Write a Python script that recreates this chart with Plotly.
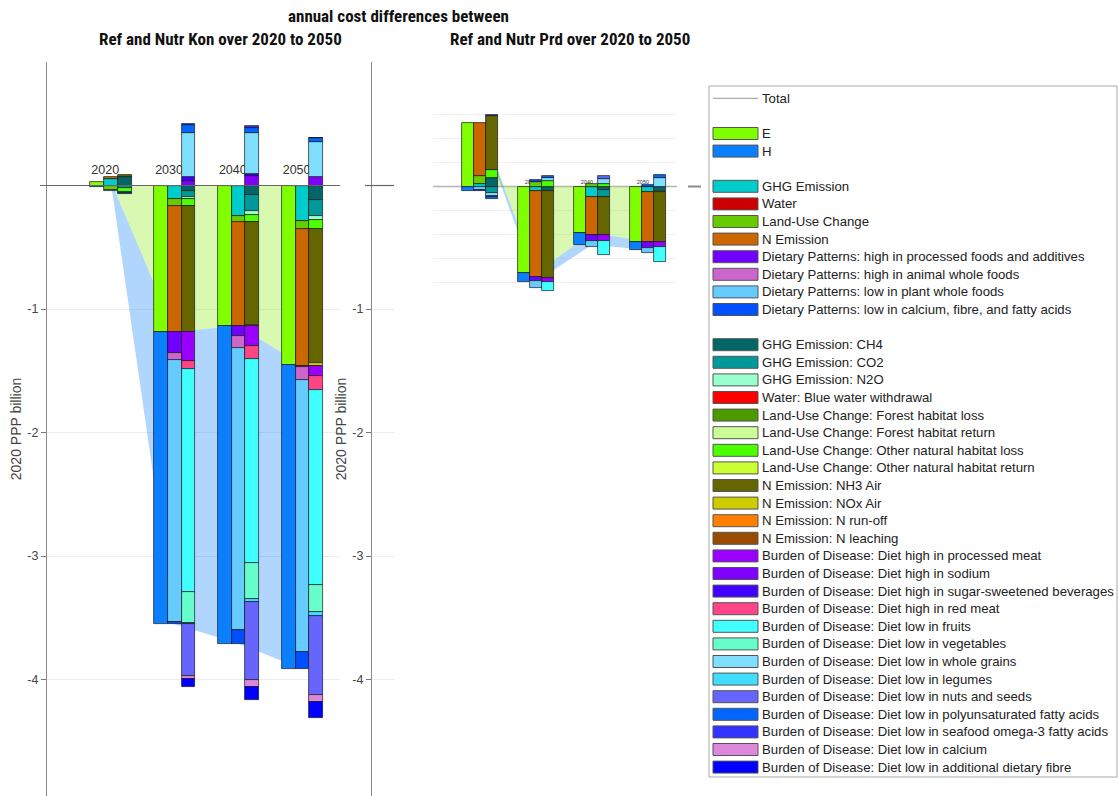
import plotly.graph_objects as go

W, H = 1119, 796

YEARS = [2020, 2030, 2040, 2050]

# ---- series names and colours -------------------------------------------
EH_NAMES = ["E", "H"]
EH_COLORS = ["#80ff00", "#0a80ff"]

CAT_NAMES = [
    "GHG Emission",
    "Water",
    "Land-Use Change",
    "N Emission",
    "Dietary Patterns: high in processed foods and additives",
    "Dietary Patterns: high in animal whole foods",
    "Dietary Patterns: low in plant whole foods",
    "Dietary Patterns: low in calcium, fibre, and fatty acids",
]
CAT_COLORS = ["#00cccc", "#cc0000", "#66cc00", "#cc6600",
              "#7000ff", "#cc66cc", "#66ccff", "#0050ff"]

SUB_NAMES = [
    "GHG Emission: CH4",
    "GHG Emission: CO2",
    "GHG Emission: N2O",
    "Water: Blue water withdrawal",
    "Land-Use Change: Forest habitat loss",
    "Land-Use Change: Forest habitat return",
    "Land-Use Change: Other natural habitat loss",
    "Land-Use Change: Other natural habitat return",
    "N Emission: NH3 Air",
    "N Emission: NOx Air",
    "N Emission: N run-off",
    "N Emission: N leaching",
    "Burden of Disease: Diet high in processed meat",
    "Burden of Disease: Diet high in sodium",
    "Burden of Disease: Diet high in sugar-sweetened beverages",
    "Burden of Disease: Diet high in red meat",
    "Burden of Disease: Diet low in fruits",
    "Burden of Disease: Diet low in vegetables",
    "Burden of Disease: Diet low in whole grains",
    "Burden of Disease: Diet low in legumes",
    "Burden of Disease: Diet low in nuts and seeds",
    "Burden of Disease: Diet low in polyunsaturated fatty acids",
    "Burden of Disease: Diet low in seafood omega-3 fatty acids",
    "Burden of Disease: Diet low in calcium",
    "Burden of Disease: Diet low in additional dietary fibre",
]
SUB_COLORS = [
    "#006666", "#009999", "#99ffcc", "#ff0000",
    "#4c9900", "#ccff99", "#4cff00", "#ccff33",
    "#666600", "#cccc00", "#ff8000", "#994c00",
    "#9900ff", "#7f00ff", "#4000ff", "#ff4488",
    "#40ffff", "#66ffcc", "#80dfff", "#40ddff",
    "#6666ff", "#0066ff", "#3333ff", "#dd88dd", "#0000ff",
]

# ---- Ref vs Nutr Kon (billion, per year) --------------------------------
KON_EH = [
    [0.03, -1.185, -1.137, -1.457],
    [-0.01, -2.368, -2.572, -2.460],
]
KON_CAT = [
    [0.05, -0.112, -0.243, -0.285],
    [0.0, 0.0, 0.0, 0.0],
    [-0.035, -0.054, -0.054, -0.070],
    [0.015, -1.020, -0.842, -1.107],
    [0.0, -0.167, -0.076, -0.005],
    [0.0, -0.062, -0.100, -0.108],
    [-0.01, -2.118, -2.283, -2.200],
    [0.0, -0.020, -0.113, -0.142],
]
KON_SUB = [
    [0.07, -0.045, -0.080, -0.120],
    [-0.02, -0.045, -0.125, -0.130],
    [0.0, -0.022, -0.035, -0.033],
    [0.0, 0.0, 0.0, 0.0],
    [0.0, 0.0, 0.0, 0.0],
    [0.0, 0.0, 0.0, 0.0],
    [-0.035, -0.054, -0.055, -0.070],
    [0.0, 0.0, 0.0, 0.0],
    [0.015, -1.020, -0.837, -1.085],
    [0.0, 0.0, -0.005, -0.022],
    [0.0, 0.0, 0.0, 0.0],
    [0.0, 0.0, 0.0, 0.0],
    [0.0, -0.235, -0.160, -0.080],
    [0.0, 0.040, 0.075, 0.070],
    [0.0, 0.025, 0.015, 0.0],
    [0.0, -0.065, -0.108, -0.113],
    [0.0, -1.808, -1.652, -1.579],
    [0.0, -0.249, -0.293, -0.225],
    [0.0, 0.364, 0.335, 0.283],
    [-0.005, -0.010, -0.020, -0.030],
    [0.0, -0.420, -0.637, -0.640],
    [-0.005, 0.060, 0.043, 0.030],
    [0.0, 0.010, 0.010, 0.005],
    [0.0, -0.025, -0.050, -0.055],
    [0.0, -0.060, -0.110, -0.127],
]

# ---- Ref vs Nutr Prd ----------------------------------------------------
PRD_EH = [
    [0.53, -0.723, -0.385, -0.460],
    [-0.035, -0.070, -0.100, -0.070],
]
PRD_CAT = [
    [0.02, -0.040, -0.090, -0.045],
    [0.0, 0.0, 0.0, 0.0],
    [0.065, 0.037, 0.025, 0.0],
    [0.445, -0.713, -0.315, -0.417],
    [0.0, -0.037, -0.045, -0.047],
    [0.0, 0.0, 0.0, 0.0],
    [-0.03, -0.055, -0.055, -0.045],
    [-0.005, 0.020, 0.0, 0.015],
]
PRD_SUB = [
    [0.075, -0.040, -0.030, -0.035],
    [-0.055, 0.0, -0.060, 0.0],
    [0.0, 0.0, 0.0, -0.010],
    [0.0, 0.0, 0.0, 0.0],
    [0.0, 0.0, 0.0, 0.0],
    [0.0, 0.0, 0.0, 0.0],
    [0.065, 0.044, 0.025, 0.0],
    [0.0, 0.0, 0.0, 0.0],
    [0.445, -0.720, -0.315, -0.420],
    [0.0, 0.0, 0.0, 0.0],
    [0.0, 0.0, 0.0, 0.0],
    [0.0, 0.0, 0.0, 0.0],
    [0.0, -0.035, -0.050, -0.035],
    [0.0, 0.0, 0.0, 0.0],
    [0.0, 0.0, 0.0, 0.0],
    [0.0, 0.0, 0.0, 0.0],
    [0.0, -0.075, -0.115, -0.125],
    [0.0, 0.0, 0.0, 0.0],
    [-0.02, 0.027, 0.040, 0.075],
    [-0.01, 0.0, 0.0, 0.0],
    [0.0, 0.0, 0.020, 0.0],
    [-0.015, 0.015, 0.0, 0.020],
    [0.01, 0.0, 0.0, 0.0],
    [0.0, 0.0, 0.0, 0.0],
    [0.0, 0.0, 0.0, 0.0],
]

FILL_E = "rgba(128,236,0,0.30)"
FILL_H = "rgba(40,140,250,0.36)"
EDGE = "rgba(20,20,20,0.85)"
SANS = "Liberation Sans, Arial, sans-serif"
NARROW = "Liberation Sans Narrow, Arial Narrow, Roboto Condensed, Liberation Sans, sans-serif"


def px_x(p):
    return p / W


def px_y(p):
    return 1 - p / H


fig = go.Figure()


def add_panel(eh, cat, sub, base, over, bar_w, label_font, label_y, label_dx):
    bx, by = base
    ox, oy = over
    # E / H stacked areas joining the group centres
    for name, vals, col in zip(EH_NAMES, eh, [FILL_E, FILL_H]):
        fig.add_trace(go.Scatter(
            x=YEARS, y=vals, mode="lines", line=dict(width=0),
            stackgroup="area_" + bx, fillcolor=col, hoverinfo="skip",
            showlegend=False, xaxis=bx, yaxis=by))
    # year labels sit under the bars
    fig.add_trace(go.Scatter(
        x=[yr + label_dx for yr in YEARS], y=[label_y] * len(YEARS),
        text=[str(yr) for yr in YEARS], mode="text",
        textfont=dict(family=SANS, size=label_font, color="#333"),
        hoverinfo="skip", showlegend=False, xaxis=bx, yaxis=by))
    # three stacked bars per year: E/H, categories, sub-categories
    levels = [(EH_NAMES, EH_COLORS, eh, -bar_w),
              (CAT_NAMES, CAT_COLORS, cat, 0.0),
              (SUB_NAMES, SUB_COLORS, sub, bar_w)]
    for names, colors, table, off in levels:
        xs = [yr + off for yr in YEARS]
        for name, color, vals in zip(names, colors, table):
            ys = [v if v != 0 else None for v in vals]
            fig.add_trace(go.Bar(
                x=xs, y=ys, width=bar_w, name=name,
                marker=dict(color=color, line=dict(color=EDGE, width=0.8)),
                showlegend=False, xaxis=ox, yaxis=oy))


add_panel(KON_EH, KON_CAT, KON_SUB, ("x", "y"), ("x2", "y2"),
          2.15, 12.5, 0.115, -0.9)
add_panel(PRD_EH, PRD_CAT, PRD_SUB, ("x3", "y3"), ("x4", "y4"),
          2.2, 5.5, 0.03, -0.9)

# ---- axes ---------------------------------------------------------------
Y_RANGE = [-4.943, 1.0]
MAIN_Y_DOMAIN = [0, px_y(62)]
LEFT_X_RANGE = [2009.97, 2055.9]
RIGHT_X_RANGE = [2011.61, 2055.18]
INSET_Y_RANGE = [-0.9458, 0.7208]
INSET_Y_DOMAIN = [px_y(300), px_y(100)]

hidden = dict(visible=False, showgrid=False, zeroline=False)

main_y = dict(
    domain=MAIN_Y_DOMAIN, range=Y_RANGE,
    tickvals=[0, -1, -2, -3, -4], ticktext=["", "-1", "-2", "-3", "-4"],
    tickfont=dict(family=SANS, size=12.5, color="#444"),
    ticks="outside", ticklen=5, tickcolor="#777",
    showgrid=True, gridcolor="#ececec", gridwidth=1,
    zeroline=False, showline=True, linecolor="#8a8a8a", linewidth=1.3,
    title=dict(text="2020 PPP billion",
               font=dict(family=SANS, size=14, color="#444"), standoff=2),
)

fig.update_layout(
    width=W, height=H,
    margin=dict(l=0, r=0, t=0, b=0),
    paper_bgcolor="white", plot_bgcolor="white",
    barmode="relative", bargap=0,
    showlegend=False,
    xaxis=dict(domain=[px_x(47), px_x(340)], range=LEFT_X_RANGE,
               anchor="y", **hidden),
    yaxis=dict(anchor="x", **main_y),
    xaxis2=dict(overlaying="x", range=LEFT_X_RANGE, anchor="y2", **hidden),
    yaxis2=dict(overlaying="y", range=Y_RANGE, anchor="x2", **hidden),
    xaxis3=dict(domain=[px_x(433), px_x(677)], range=RIGHT_X_RANGE,
                anchor="y3", **hidden),
    yaxis3=dict(domain=INSET_Y_DOMAIN, range=INSET_Y_RANGE, anchor="x3",
                tickvals=[-0.8, -0.6, -0.4, -0.2, 0.2, 0.4, 0.6],
                showticklabels=False, ticks="", showgrid=True,
                gridcolor="#f1f1f1", zeroline=False, showline=False),
    xaxis4=dict(overlaying="x3", range=RIGHT_X_RANGE, anchor="y4", **hidden),
    yaxis4=dict(overlaying="y3", range=INSET_Y_RANGE, anchor="x4", **hidden),
    xaxis5=dict(domain=[px_x(372), px_x(394)], range=[0, 1],
                anchor="y5", **hidden),
    yaxis5=dict(anchor="x5", **main_y),
)

# ---- baselines ------------------------------------------------------------
shapes = [
    dict(type="line", xref="paper", yref="y", x0=px_x(40), x1=px_x(340),
         y0=0, y1=0, line=dict(color="#666", width=1.2), layer="above"),
    dict(type="line", xref="paper", yref="y5", x0=px_x(365), x1=px_x(394),
         y0=0, y1=0, line=dict(color="#666", width=1.2), layer="above"),
    dict(type="line", xref="paper", yref="y3", x0=px_x(433), x1=px_x(677),
         y0=0, y1=0, line=dict(color="#b4b4b4", width=1.5), layer="below"),
    dict(type="line", xref="paper", yref="y3", x0=px_x(688), x1=px_x(701),
         y0=0, y1=0, line=dict(color="#8a8a8a", width=2), layer="below"),
]

# ---- titles ---------------------------------------------------------------
annotations = []
for text, cx, cy in [("annual cost differences between", 398, 16),
                     ("Ref and Nutr Kon over 2020 to 2050", 220, 39),
                     ("Ref and Nutr Prd over 2020 to 2050", 570, 39)]:
    annotations.append(dict(
        text=text, x=px_x(cx), y=px_y(cy), xref="paper", yref="paper",
        xanchor="center", yanchor="middle", showarrow=False,
        font=dict(family=NARROW, size=17, color="#111", weight="bold")))

# ---- key --------------------------------------------------------------------
ROW0, ROW_STEP = 98.3, 17.6
SW_X0, SW_X1, TXT_X = 713, 758, 760
shapes.append(dict(type="rect", xref="paper", yref="paper",
                   x0=px_x(709), x1=px_x(1117), y0=px_y(777), y1=px_y(86),
                   line=dict(color="#a8a8a8", width=1), fillcolor="white",
                   layer="above"))

key_rows = [(0, "Total", None)]
key_rows += [(2 + i, n, c) for i, (n, c) in enumerate(zip(EH_NAMES, EH_COLORS))]
key_rows += [(5 + i, n, c) for i, (n, c) in enumerate(zip(CAT_NAMES, CAT_COLORS))]
key_rows += [(14 + i, n, c) for i, (n, c) in enumerate(zip(SUB_NAMES, SUB_COLORS))]

for row, name, color in key_rows:
    yc = ROW0 + ROW_STEP * row
    if color is None:
        shapes.append(dict(type="line", xref="paper", yref="paper",
                           x0=px_x(SW_X0), x1=px_x(SW_X1),
                           y0=px_y(yc), y1=px_y(yc),
                           line=dict(color="#9a9a9a", width=1), layer="above"))
    else:
        shapes.append(dict(type="rect", xref="paper", yref="paper",
                           x0=px_x(SW_X0), x1=px_x(SW_X1),
                           y0=px_y(yc + 6), y1=px_y(yc - 6),
                           fillcolor=color, line=dict(color="#555", width=1),
                           layer="above"))
    annotations.append(dict(
        text=name, x=px_x(TXT_X), y=px_y(yc), xref="paper", yref="paper",
        xanchor="left", yanchor="middle", showarrow=False,
        font=dict(family=SANS, size=13.2, color="#222")))

fig.update_layout(shapes=shapes, annotations=annotations)

fig.write_html("out.html")
